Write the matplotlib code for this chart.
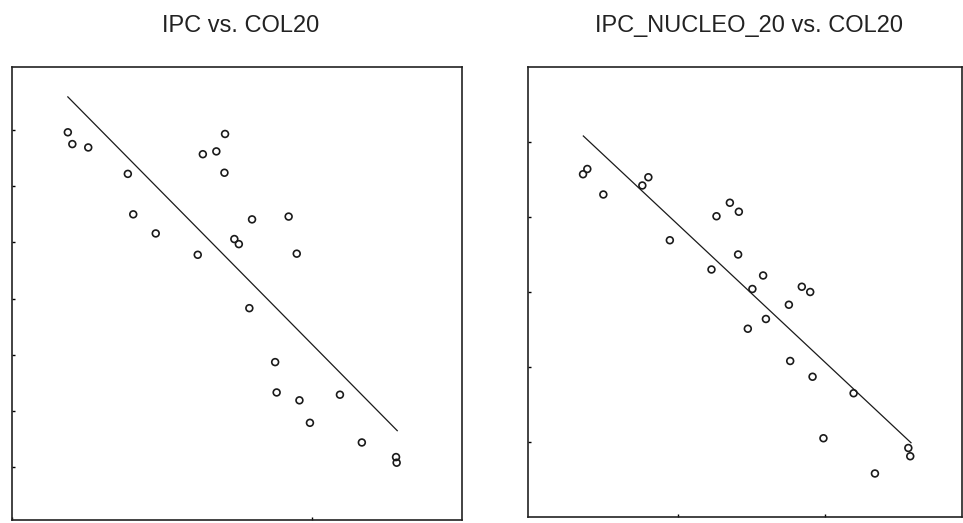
import matplotlib
matplotlib.use("Agg")
import matplotlib.pyplot as plt

# IPC vs. COL20 (arbitrary units)
col20_a = [0.186, 0.201, 0.254, 0.386, 0.404, 0.479, 0.619, 0.636, 0.681, 0.710,
           0.708, 0.741, 0.756, 0.800, 0.791, 0.877, 0.882, 0.922, 0.949, 0.958,
           0.993, 1.093, 1.166, 1.280, 1.282]
ipc = [6.96, 6.75, 6.69, 6.22, 5.50, 5.16, 4.78, 6.57, 6.62, 6.93,
       6.24, 5.06, 4.97, 5.41, 3.83, 2.87, 2.33, 5.46, 4.80, 2.19,
       1.79, 2.29, 1.44, 1.18, 1.08]
ipc_fit_x = [0.186, 1.284]
ipc_fit_y = [7.59, 1.65]

# IPC_NUCLEO_20 vs. COL20
col20_b = [0.354, 0.383, 0.492, 0.757, 0.798, 0.944, 1.227, 1.261, 1.352, 1.413,
           1.408, 1.505, 1.578, 1.474, 1.597, 1.753, 1.841, 1.898, 1.762, 1.914,
           2.193, 1.988, 2.338, 2.565, 2.578]
ipc_nucleo = [4.57, 4.64, 4.30, 4.42, 4.53, 3.69, 3.30, 4.01, 4.19, 4.07,
              3.50, 3.04, 3.22, 2.51, 2.64, 2.83, 3.07, 3.00, 2.08, 1.87,
              1.65, 1.05, 0.58, 0.92, 0.81]
nucleo_fit_x = [0.356, 2.583]
nucleo_fit_y = [5.08, 0.99]

titles = ["IPC vs. COL20", "IPC_NUCLEO_20 vs. COL20"]

plt.rcParams['font.family'] = ['Liberation Sans', 'DejaVu Sans']

fig = plt.figure(figsize=(9.63, 5.23), dpi=100)
ax1 = fig.add_axes([0.0125, 0.0057, 0.4673, 0.866])
ax2 = fig.add_axes([0.5483, 0.0115, 0.4507, 0.8604])

panels = [
    (ax1, col20_a, ipc, ipc_fit_x, ipc_fit_y, (0, 1.5), (0.06, 8.12), [0, 1], range(1, 8)),
    (ax2, col20_b, ipc_nucleo, nucleo_fit_x, nucleo_fit_y, (-0.02, 2.93), (0, 6), [1, 2], range(1, 6)),
]

for ax, x, y, fx, fy, xl, yl, xt, yt in panels:
    ax.plot(fx, fy, color="#1a1a1a", lw=0.9)
    ax.scatter(x, y, s=24, facecolors="none", edgecolors="#1a1a1a", linewidths=1.2, zorder=3)
    ax.set_xlim(*xl)
    ax.set_ylim(*yl)
    ax.set_xticks(xt)
    ax.set_yticks(list(yt))
    ax.tick_params(direction="in", length=2, width=1, labelbottom=False, labelleft=False)
    for s in ax.spines.values():
        s.set_linewidth(1.2)
        s.set_color("#222222")

fig.text(0.250, 0.951, titles[0], ha="center", va="center", fontsize=17, color="#222222")
fig.text(0.778, 0.951, titles[1], ha="center", va="center", fontsize=17, color="#222222")

fig.savefig("out.png", dpi=100)
